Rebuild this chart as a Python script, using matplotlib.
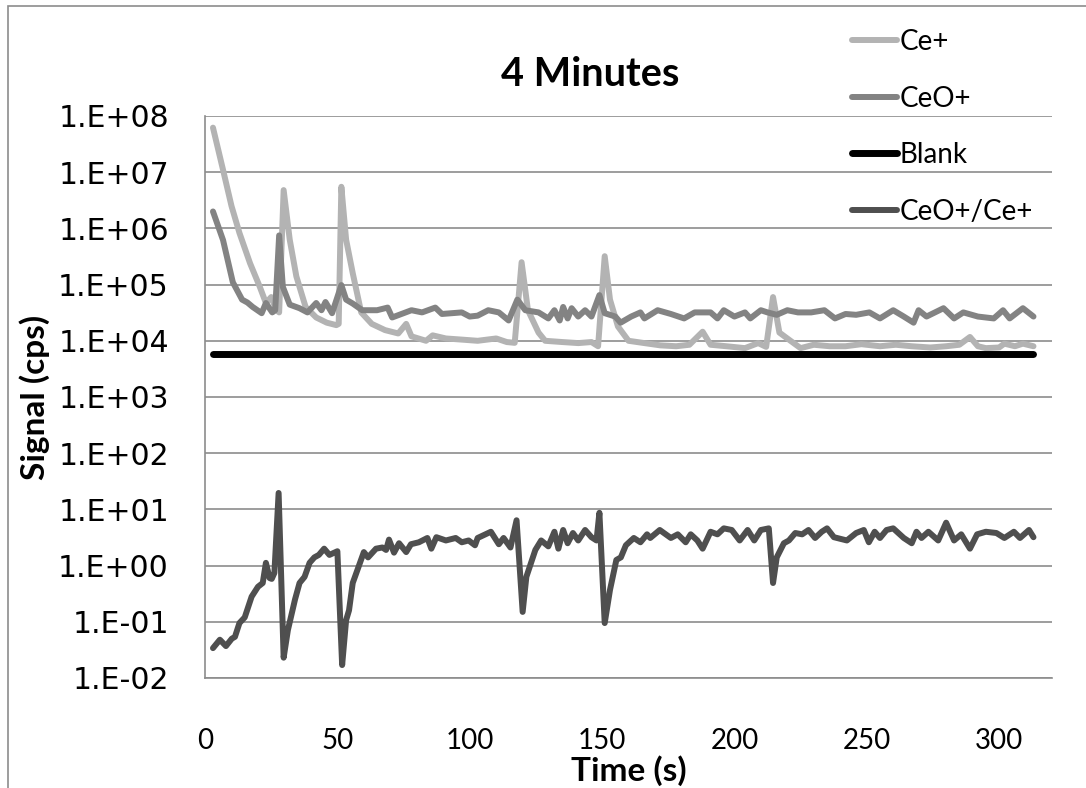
import matplotlib
matplotlib.use("Agg")
import matplotlib.pyplot as plt
import numpy as np
from matplotlib.patches import Rectangle
from matplotlib.ticker import FixedLocator, FuncFormatter

# values (time in s, signal in cps)
ce_t = [3, 6.8, 10, 13, 17, 20.7, 23, 25, 27, 28, 29.7, 32, 34.5, 38, 42, 46, 49.6, 50.5,
        51.5, 53.3, 55.8, 59, 63, 68, 73, 76, 78, 83.5, 86, 91, 97, 103, 110, 114, 117,
        119.6, 122, 126, 128.5, 135, 141, 146, 148.5, 151, 153, 156, 160, 166, 172, 178,
        183, 188, 191, 197, 204, 209, 212, 214.6, 217, 220, 225, 230, 236, 242, 248, 255,
        261, 267, 274, 280, 285, 289, 292, 295, 300, 302, 306, 309, 313]
ce = [6.2e7, 1.1e7, 2.5e6, 8.3e5, 2.4e5, 9.1e4, 4.7e4, 6.0e4, 3.5e4, 3.2e4, 4.8e6, 6.3e5,
      1.4e5, 4.0e4, 2.6e4, 2.1e4, 1.9e4, 2.0e4, 5.5e6, 6.3e5, 1.6e5, 3.2e4, 2.0e4, 1.55e4,
      1.35e4, 2.0e4, 1.2e4, 1.0e4, 1.25e4, 1.1e4, 1.05e4, 1.0e4, 1.1e4, 9.5e3, 9.2e3,
      2.5e5, 3.5e4, 1.4e4, 1.0e4, 9.5e3, 9.1e3, 9.5e3, 8.0e3, 3.2e5, 5.4e4, 1.8e4, 1.0e4,
      9.1e3, 8.3e3, 8.0e3, 8.5e3, 1.45e4, 8.5e3, 8.0e3, 7.4e3, 9.1e3, 7.8e3, 6.0e4, 1.4e4,
      1.1e4, 7.4e3, 8.5e3, 8.0e3, 8.0e3, 8.7e3, 8.0e3, 8.5e3, 8.0e3, 7.6e3, 8.0e3, 8.5e3,
      1.17e4, 8.0e3, 7.4e3, 7.6e3, 8.9e3, 8.0e3, 8.9e3, 8.0e3]

ceo_t = [3, 6.8, 10.5, 14, 16, 18, 21.4, 23, 25.4, 26.5, 28, 29.4, 32, 35.7, 38.7, 42, 44,
         45.5, 48, 51.5, 53.3, 55.8, 59.4, 65, 69, 70.7, 78, 82, 87, 89.5, 97, 100, 103,
         107, 111, 114.7, 118, 121, 126, 129.7, 132, 134, 135.3, 137, 138.5, 141, 143.6,
         146, 149, 151, 155, 157, 161, 164.5, 166, 171, 176, 181, 185, 191, 193.6, 196, 200,
         204, 206, 210, 212.5, 216, 220, 224, 229, 234, 238, 242, 246, 251, 255, 260, 264,
         267.7, 269.6, 272.6, 279, 283, 286.5, 292, 298, 301.5, 304, 309, 313]
ceo = [2.0e6, 6.2e5, 1.1e5, 5.4e4, 4.8e4, 4.0e4, 3.1e4, 4.7e4, 3.2e4, 3.5e4, 7.5e5, 9.1e4,
       4.4e4, 3.8e4, 3.2e4, 4.7e4, 3.5e4, 4.9e4, 3.1e4, 9.8e4, 5.4e4, 4.6e4, 3.5e4, 3.5e4,
       3.9e4, 2.6e4, 3.5e4, 3.2e4, 3.9e4, 3.0e4, 3.2e4, 2.7e4, 2.8e4, 3.5e4, 3.2e4, 2.3e4,
       5.4e4, 3.5e4, 3.2e4, 2.5e4, 3.5e4, 2.3e4, 4.0e4, 2.5e4, 3.8e4, 2.7e4, 3.5e4, 2.7e4,
       6.5e4, 3.1e4, 2.7e4, 2.1e4, 2.7e4, 3.2e4, 2.5e4, 3.5e4, 3.0e4, 2.5e4, 3.2e4, 3.2e4,
       2.5e4, 3.5e4, 2.7e4, 3.2e4, 2.5e4, 3.5e4, 3.2e4, 2.9e4, 3.5e4, 3.2e4, 3.2e4, 3.5e4,
       2.5e4, 3.0e4, 2.9e4, 3.2e4, 2.5e4, 3.5e4, 2.7e4, 2.1e4, 3.5e4, 2.7e4, 3.8e4, 2.5e4,
       3.2e4, 2.7e4, 2.5e4, 3.5e4, 2.5e4, 3.8e4, 2.7e4]

blank_t = [3, 313]
blank = [5.8e3, 5.8e3]

ratio_t = [3, 5.6, 7.9, 10.1, 11.3, 13, 15, 17.6, 20, 21.8, 23, 24.4, 25.2, 26.2, 27.8,
           29.7, 31.3, 34, 35.7, 37.6, 39.5, 41.3, 43, 45, 47, 48.9, 50, 51.8, 53.3, 54.4,
           55.8, 58, 60, 61.6, 64.6, 67, 68.4, 69.5, 71.4, 73.3, 76, 77.8, 80.8, 84, 85.5,
           87.4, 91, 94.7, 97, 99.6, 102, 103, 108, 111, 112.8, 115.4, 117.7, 120, 121.4,
           124.8, 127, 129.7, 132, 133.5, 135.3, 137, 139, 141, 143.6, 146, 147.9, 149, 151,
           153, 155.4, 157.1, 159, 162, 164.5, 167, 168.2, 171.8, 176, 178.6, 181.6, 183.5,
           186, 188, 191, 193.6, 196, 199, 202, 205, 207.5, 210, 213, 214.6, 216, 218.7,
           220.6, 223, 225.6, 228, 230.5, 233, 235, 237.6, 242.5, 246, 248.9, 250.8, 253, 255,
           257.5, 260, 264, 267, 268.8, 270.7, 273.3, 277, 280, 283, 285.7, 289, 291.7, 295,
           299, 302, 305.6, 307.9, 311.3, 313]
ratio = [0.034, 0.048, 0.037, 0.050, 0.054, 0.095, 0.12, 0.28, 0.42, 0.49, 1.12, 0.60, 0.58,
         0.74, 19.6, 0.023, 0.071, 0.25, 0.49, 0.63, 1.12, 1.4, 1.55, 2.0, 1.55, 1.7, 1.8,
         0.017, 0.107, 0.16, 0.49, 0.95, 1.74, 1.4, 2.0, 2.1, 1.9, 2.9, 1.7, 2.5, 1.74, 2.4,
         2.6, 3.1, 2.0, 3.2, 2.8, 3.1, 2.6, 2.8, 2.3, 3.1, 4.0, 2.4, 3.1, 2.1, 6.4, 0.15,
         0.63, 1.9, 2.8, 2.2, 4.0, 2.0, 4.3, 2.5, 3.8, 2.8, 4.3, 3.2, 2.8, 8.7, 0.095, 0.37,
         1.26, 1.4, 2.3, 3.1, 2.6, 3.6, 3.1, 4.3, 3.1, 3.6, 2.6, 3.6, 2.8, 2.0, 4.0, 3.6,
         4.6, 4.3, 2.8, 4.3, 2.8, 4.3, 4.6, 0.49, 1.4, 2.5, 2.8, 3.8, 3.6, 4.3, 3.1, 4.0,
         4.6, 3.2, 2.8, 3.8, 4.3, 2.6, 4.0, 3.1, 4.3, 4.6, 3.1, 2.5, 4.0, 3.1, 4.0, 2.8, 5.8,
         2.8, 3.6, 2.0, 3.6, 4.0, 3.8, 3.1, 4.0, 3.1, 4.3, 3.2]

x_ticks = [0, 50, 100, 150, 200, 250, 300]
y_exps = list(range(-2, 9))

fig = plt.figure(figsize=(10.86, 7.88), dpi=100)
ax = fig.add_axes([0.1888, 0.1396, 0.9687 - 0.1888, 0.8528 - 0.1396])

# outer chart frame (only left and top edges fall inside the image)
fig.patches.append(Rectangle((8 / 1086, -0.1), 1.2, 1.1 - 6 / 788, transform=fig.transFigure,
                             fill=False, edgecolor="#8c8c8c", linewidth=1.2))

style = dict(solid_joinstyle="round", solid_capstyle="round")
ax.plot(ce_t, ce, color="#b3b3b3", lw=4.3, label="Ce+", **style)
ax.plot(ceo_t, ceo, color="#838383", lw=4.3, label="CeO+", **style)
ax.plot(blank_t, blank, color="black", lw=5, label="Blank", **style)
ax.plot(ratio_t, ratio, color="#4f4f4f", lw=4.3, label="CeO+/Ce+", **style)

ax.set_yscale("log")
ax.set_ylim(1e-2, 1e8)
ax.set_xlim(0, 320)
ax.yaxis.set_major_locator(FixedLocator([10.0 ** e for e in y_exps]))
ax.yaxis.set_minor_locator(FixedLocator([]))
ax.yaxis.set_major_formatter(FuncFormatter(lambda v, p: "1.E%+03d" % round(np.log10(v))))
ax.set_xticks(x_ticks)
ax.grid(axis="y", color="#8c8c8c", lw=1.2)
ax.set_axisbelow(True)
for s in ["top", "right"]:
    ax.spines[s].set_visible(False)
for s in ["left", "bottom"]:
    ax.spines[s].set_color("#8c8c8c")
    ax.spines[s].set_linewidth(1.2)
ax.tick_params(length=0)
ax.tick_params(axis="y", labelsize=21.5, pad=26)
ax.tick_params(axis="x", labelsize=20, pad=36)
for lab in ax.get_yticklabels():
    lab.set_family("DejaVu Sans")
for lab in ax.get_xticklabels():
    lab.set_family("Lato")

fig.text(590 / 1086, 1 - 75 / 788, "4 Minutes", fontsize=28.5, fontweight="bold", family="Lato",
         ha="center", va="center")
ax.set_xlabel("Time (s)", fontsize=24, fontweight="bold", family="Lato")
ax.xaxis.set_label_coords(0.5, -0.137)
ax.set_ylabel("Signal (cps)", fontsize=24, fontweight="bold", family="Lato")
ax.yaxis.set_label_coords(-0.183, 0.5)

leg = ax.legend(loc="upper left", bbox_to_anchor=(852 / 1086, 1 - 29 / 788),
                bbox_transform=fig.transFigure, frameon=False, prop=dict(family="Lato", size=20),
                handlelength=1.62, handletextpad=0.1, labelspacing=1.1, borderpad=0,
                borderaxespad=0)

fig.savefig("out.png", dpi=100)
